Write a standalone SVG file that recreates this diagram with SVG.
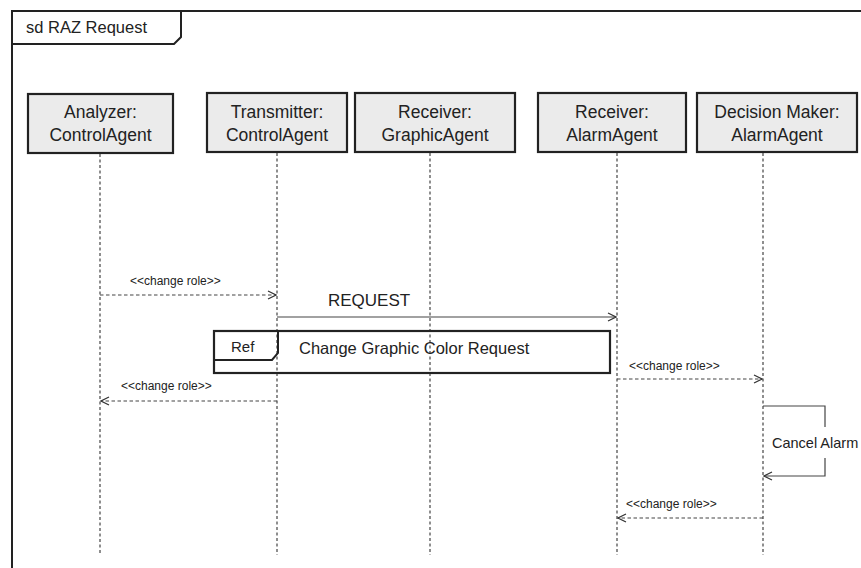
<svg xmlns="http://www.w3.org/2000/svg" width="861" height="568" viewBox="0 0 861 568">
<style>
text{font-family:"Liberation Sans",Arial,sans-serif;fill:#222}
.hdr rect{fill:#ebebeb;stroke:#222;stroke-width:2.2}
.hdr text{font-size:17.5px;text-anchor:middle}
.life{stroke:#444;stroke-width:1.2;stroke-dasharray:3 2.5;fill:none}
.dash{stroke:#444;stroke-width:1.1;stroke-dasharray:3.5 2.5;fill:none}
.solid{stroke:#444;stroke-width:1.2;fill:none}
.small{font-size:12px}
.frame{stroke:#222;stroke-width:2;fill:none}
</style>
<defs>
<marker id="open" markerWidth="10" markerHeight="10" refX="9" refY="5" orient="auto" markerUnits="userSpaceOnUse">
<path d="M1,1 L9,5 L1,9" fill="none" stroke="#333" stroke-width="1.2"/>
</marker>
</defs>
<g id="frame">
<path class="frame" d="M12,568 L12,11 L861,11"/>
<path class="frame" d="M12,44 L174,44 L181,37 L181,11"/>
<text x="26" y="33" font-size="16.5">sd RAZ Request</text>
</g>
<g id="analyzer" class="hdr">
<rect x="28" y="94" width="145" height="59"/>
<text x="100.5" y="118">Analyzer:</text>
<text x="100.5" y="141">ControlAgent</text>
</g>
<g id="transmitter" class="hdr">
<rect x="207" y="93" width="140" height="59"/>
<text x="277" y="118">Transmitter:</text>
<text x="277" y="141">ControlAgent</text>
</g>
<g id="receiverGraphic" class="hdr">
<rect x="355" y="93" width="160" height="59"/>
<text x="435" y="118">Receiver:</text>
<text x="435" y="141">GraphicAgent</text>
</g>
<g id="receiverAlarm" class="hdr">
<rect x="538" y="93" width="148" height="59"/>
<text x="612" y="118">Receiver:</text>
<text x="612" y="141">AlarmAgent</text>
</g>
<g id="decisionMaker" class="hdr">
<rect x="697" y="93" width="160" height="59"/>
<text x="777" y="118">Decision Maker:</text>
<text x="777" y="141">AlarmAgent</text>
</g>
<g id="lifelines">
<line class="life" x1="100" y1="154" x2="100" y2="555"/>
<line class="life" x1="277" y1="153" x2="277" y2="555"/>
<line class="life" x1="430" y1="153" x2="430" y2="555"/>
<line class="life" x1="617" y1="153" x2="617" y2="555"/>
<line class="life" x1="763" y1="153" x2="763" y2="555"/>
</g>
<g id="ref">
<rect x="214" y="331" width="396" height="42" fill="none" stroke="#222" stroke-width="2.2"/>
<path d="M214,360 L272,360 L278,353 L278,331" fill="none" stroke="#222" stroke-width="2"/>
<text x="231" y="352" font-size="15">Ref</text>
<text x="299" y="354" font-size="16.5">Change Graphic Color Request</text>
</g>
<g id="connectors">
<line class="dash" x1="100" y1="295" x2="276" y2="295" marker-end="url(#open)"/>
<text class="small" x="130" y="285">&lt;&lt;change role&gt;&gt;</text>
<line class="solid" x1="277" y1="317" x2="616" y2="317" marker-end="url(#open)"/>
<text x="328" y="306" font-size="17">REQUEST</text>
<line class="dash" x1="277" y1="401" x2="101" y2="401" marker-end="url(#open)"/>
<text class="small" x="121" y="390">&lt;&lt;change role&gt;&gt;</text>
<line class="dash" x1="617" y1="379" x2="762" y2="379" marker-end="url(#open)"/>
<text class="small" x="629" y="370">&lt;&lt;change role&gt;&gt;</text>
<path class="solid" d="M763,406 L825,406 L825,427"/>
<path class="solid" d="M825,458 L825,476 L764,476" marker-end="url(#open)"/>
<text x="772" y="448" font-size="14.5">Cancel Alarm</text>
<line class="dash" x1="763" y1="518" x2="618" y2="518" marker-end="url(#open)"/>
<text class="small" x="626" y="508">&lt;&lt;change role&gt;&gt;</text>
</g>
</svg>
